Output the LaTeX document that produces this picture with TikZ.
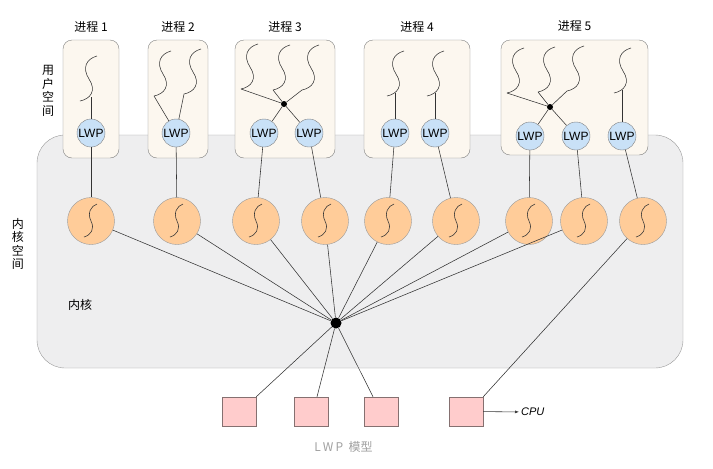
\documentclass[tikz,border=0pt]{standalone}
\usepackage{fontspec}
\setmainfont{Noto Sans CJK SC}
\newfontfamily\latinfont{Liberation Sans}
\usetikzlibrary{arrows.meta,positioning}
\definecolor{procfill}{HTML}{FCF7EF}
\definecolor{boxgray}{HTML}{808080}
\definecolor{kernfill}{HTML}{EEEEEF}
\definecolor{kerngray}{HTML}{9A9A9A}
\definecolor{lwpblue}{HTML}{C9E1F7}
\definecolor{korange}{HTML}{FFCC99}
\definecolor{cpupink}{HTML}{FFCCCC}
\definecolor{cpugray}{HTML}{857070}
\definecolor{linegray}{HTML}{333333}
\definecolor{captiongray}{HTML}{A0A0A0}
\tikzset{
  procbox/.style={draw=boxgray,fill=procfill,rounded corners=9pt,minimum height=118pt,inner sep=0pt},
  kernbox/.style={draw=kerngray,fill=kernfill,rounded corners=28pt,minimum width=646pt,minimum height=233pt,inner sep=0pt},
  lwpnode/.style={circle,draw=boxgray,fill=lwpblue,minimum size=28pt,inner sep=0pt,font=\latinfont\fontsize{12}{12}\selectfont},
  knode/.style={circle,draw=kerngray,fill=korange,minimum size=47pt,inner sep=0pt},
  cpunode/.style={draw=cpugray,fill=cpupink,minimum width=34pt,minimum height=29pt,inner sep=0pt},
  hubnode/.style={circle,fill=black,minimum size=11pt,inner sep=0pt},
  joinnode/.style={circle,fill=black,minimum size=6pt,inner sep=0pt},
  link/.style={draw=linegray,line width=0.55pt},
  titletext/.style={font=\fontsize{12}{14}\selectfont,inner sep=2pt},
  uthread/.pic={\draw[linegray,line width=0.55pt] (0,0) .. controls (10,-2) and (17,-10) .. (9,-22) .. controls (2,-33) and (6,-42) .. (17,-45);},
  kthread/.pic={\draw[linegray,line width=0.55pt] (-7,16) .. controls (0,14) and (4,8) .. (0,0) .. controls (-4,-8) and (0,-15) .. (6,-17);},
}
\begin{document}
\begin{tikzpicture}[x=1pt,y=-1pt]
  \useasboundingbox (0,0) rectangle (713,469);
  % kernel space
  \node[kernbox] (kernel) at (360,251.5) {};
  % processes
  \node[procbox,minimum width=56pt] (p1) at (91,99) {};
  \node[procbox,minimum width=60pt] (p2) at (178,99) {};
  \node[procbox,minimum width=100pt] (p3) at (285,99) {};
  \node[procbox,minimum width=106pt] (p4) at (417,99) {};
  \node[procbox,minimum width=147pt,minimum height=115pt] (p5) at (574.5,97.5) {};
  \node[titletext,above=5pt of p1] (t1) {进程 1};
  \node[titletext,above=5pt of p2] (t2) {进程 2};
  \node[titletext,above=5pt of p3] (t3) {进程 3};
  \node[titletext,above=5pt of p4] (t4) {进程 4};
  \node[titletext,above=6.5pt of p5] (t5) {进程 5};
  \node[font=\fontsize{12}{13.5}\selectfont,align=center] (userlbl) at (48,91) {用\\户\\空\\间};
  \node[font=\fontsize{12}{13.5}\selectfont,align=center] (kernlbl) at (18,244) {内\\核\\空\\间};
  \node[font=\fontsize{12}{14}\selectfont] (kern) at (80,305) {内核};
  % user threads
  \coordinate (u11) at (80,101);
  \coordinate (u21) at (154,96); \coordinate (u22) at (184,94);
  \coordinate (u31) at (241,89); \coordinate (u32) at (273,90); \coordinate (u33) at (302,90);
  \coordinate (u41) at (387,96); \coordinate (u42) at (427,96);
  \coordinate (u51) at (507,93); \coordinate (u52) at (538,92); \coordinate (u53) at (567,91); \coordinate (u54) at (614,93);
  \foreach \u in {u11,u21,u22,u31,u32,u33,u41,u42,u51,u52,u53,u54}
    \pic at (\u) {uthread};
  \coordinate (j1) at (91,97);
  \coordinate (j41) at (395,93); \coordinate (j42) at (435,93);
  \coordinate (j54) at (622,90);
  \node[joinnode] (hub3) at (284,104) {};
  \node[joinnode] (hub5) at (550,107) {};
  % LWPs
  \node[lwpnode] (l1) at (91,133) {LWP};
  \node[lwpnode] (l2) at (176,133) {LWP};
  \node[lwpnode] (l31) at (264,133) {LWP};
  \node[lwpnode] (l32) at (309,133) {LWP};
  \node[lwpnode] (l41) at (395,133) {LWP};
  \node[lwpnode] (l42) at (435,133) {LWP};
  \node[lwpnode] (l51) at (530,136) {LWP};
  \node[lwpnode] (l52) at (576,136) {LWP};
  \node[lwpnode] (l53) at (622,136) {LWP};
  \draw[link] (j1) -- (l1);
  \draw[link] (u21) -- (l2); \draw[link] (u22) -- (l2);
  \draw[link] (u31) -- (hub3); \draw[link] (u32) -- (hub3); \draw[link] (u33) -- (hub3);
  \draw[link] (hub3) -- (l31); \draw[link] (hub3) -- (l32);
  \draw[link] (j41) -- (l41); \draw[link] (j42) -- (l42);
  \draw[link] (u51) -- (hub5); \draw[link] (u52) -- (hub5); \draw[link] (u53) -- (hub5);
  \draw[link] (hub5) -- (l51); \draw[link] (hub5) -- (l52);
  \draw[link] (j54) -- (l53);
  % kernel threads
  \node[knode] (k1) at (91,221) {};
  \node[knode] (k2) at (177,221) {};
  \node[knode] (k3) at (256,221) {};
  \node[knode] (k4) at (325,221) {};
  \node[knode] (k5) at (388,221) {};
  \node[knode] (k6) at (456,221) {};
  \node[knode] (k7) at (529,221) {};
  \node[knode] (k8) at (584,221) {};
  \node[knode] (k9) at (643,221) {};
  \foreach \k in {1,...,9}
    \pic at (k\k) {kthread};
  \draw[link] (l1) -- (k1); \draw[link] (l2) -- (k2);
  \draw[link] (l31) -- (k3); \draw[link] (l32) -- (k4);
  \draw[link] (l41) -- (k5); \draw[link] (l42) -- (k6);
  \draw[link] (l51) -- (k7); \draw[link] (l52) -- (k8); \draw[link] (l53) -- (k9);
  % scheduler and CPUs
  \node[hubnode] (hub) at (336,323) {};
  \foreach \k in {1,...,8}
    \draw[link] (k\k) -- (hub);
  \node[cpunode] (c1) at (239,411.5) {};
  \node[cpunode] (c2) at (311,411.5) {};
  \node[cpunode] (c3) at (381,411.5) {};
  \node[cpunode] (c4) at (466,411.5) {};
  \draw[link] (hub) -- (c1.north east);
  \draw[link] (hub) -- ([xshift=6pt]c2.north);
  \draw[link] (hub) -- ([xshift=-8pt]c3.north);
  \draw[link] (k9) -- (c4.north east);
  \node[font=\latinfont\itshape\fontsize{11}{13}\selectfont,anchor=west,inner sep=2pt] (cpu) at (519,412) {CPU};
  \draw[link,-{Latex[length=4pt,width=3pt]}] (c4) -- (cpu);
  \node[font=\fontsize{12}{14}\selectfont,text=captiongray] (caption) at (343.5,447) {L\kern2pt W\kern2pt P\ \ 模型};
\end{tikzpicture}
\end{document}
